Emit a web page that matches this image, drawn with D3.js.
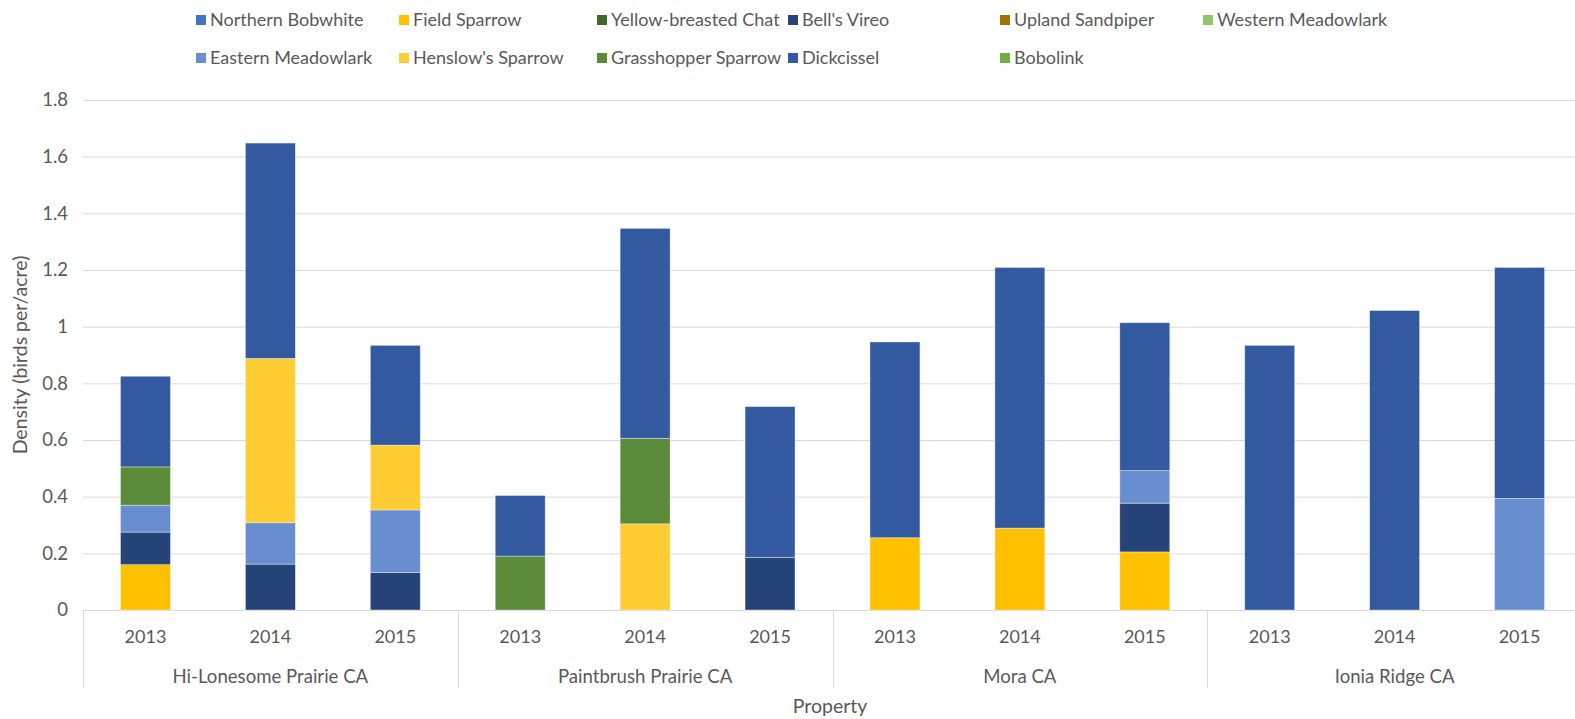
<!DOCTYPE html>
<html>
<head>
<meta charset="utf-8">
<script src="https://cdn.jsdelivr.net/npm/d3@7"></script>
<style>
  body { margin: 0; background: #fff; }
  text { font-family: Lato, "Open Sans", sans-serif; fill: #595959; }
</style>
</head>
<body>
<div id="chart"></div>
<script>
var W = 1575, H = 719;

var properties = ["Hi-Lonesome Prairie CA", "Paintbrush Prairie CA", "Mora CA", "Ionia Ridge CA"];
var years = ["2013", "2014", "2015"];

// legend order as shown in the chart (row by row)
var legendRows = [
    ["Northern Bobwhite", "Field Sparrow", "Yellow-breasted Chat", "Bell's Vireo", "Upland Sandpiper", "Western Meadowlark"],
    ["Eastern Meadowlark", "Henslow's Sparrow", "Grasshopper Sparrow", "Dickcissel", "Bobolink"]
];

// stacking order, bottom to top
var species = ["Northern Bobwhite", "Field Sparrow", "Upland Sandpiper", "Bell's Vireo", "Eastern Meadowlark",
    "Henslow's Sparrow", "Yellow-breasted Chat", "Grasshopper Sparrow", "Dickcissel", "Western Meadowlark", "Bobolink"];

var colors = {
    "Northern Bobwhite": "#4472c4",
    "Field Sparrow": "#ffc000",
    "Yellow-breasted Chat": "#43682b",
    "Bell's Vireo": "#264478",
    "Upland Sandpiper": "#9e7200",
    "Western Meadowlark": "#8fc76f",
    "Eastern Meadowlark": "#698ed0",
    "Henslow's Sparrow": "#ffcd33",
    "Grasshopper Sparrow": "#5b8a3a",
    "Dickcissel": "#335aa1",
    "Bobolink": "#70ad47"
};

// density (birds per acre), one value per property-year, in order HL13..IR15
var fieldSparrow      = [0.16, 0, 0, 0, 0, 0, 0.255, 0.289, 0.205, 0, 0, 0];
var bellsVireo        = [0.115, 0.162, 0.132, 0, 0, 0.186, 0, 0, 0.172, 0, 0, 0];
var easternMeadowlark = [0.095, 0.146, 0.221, 0, 0, 0, 0, 0, 0.115, 0, 0, 0.394];
var henslowsSparrow   = [0, 0.58, 0.229, 0, 0.304, 0, 0, 0, 0, 0, 0, 0];
var grasshopperSparrow= [0.135, 0, 0, 0.19, 0.302, 0, 0, 0, 0, 0, 0, 0];
var dickcissel        = [0.32, 0.76, 0.352, 0.214, 0.741, 0.532, 0.691, 0.92, 0.522, 0.934, 1.057, 0.815];
var zeros             = [0, 0, 0, 0, 0, 0, 0, 0, 0, 0, 0, 0];

var seriesValues = {
    "Northern Bobwhite": zeros,
    "Field Sparrow": fieldSparrow,
    "Upland Sandpiper": zeros,
    "Bell's Vireo": bellsVireo,
    "Eastern Meadowlark": easternMeadowlark,
    "Henslow's Sparrow": henslowsSparrow,
    "Yellow-breasted Chat": zeros,
    "Grasshopper Sparrow": grasshopperSparrow,
    "Dickcissel": dickcissel,
    "Western Meadowlark": zeros,
    "Bobolink": zeros
};

var yTicks = [0, 0.2, 0.4, 0.6, 0.8, 1, 1.2, 1.4, 1.6, 1.8];

// build table rows
var rows = [];
properties.forEach(function (p, pi) {
    years.forEach(function (yr, yi) {
        var idx = pi * 3 + yi;
        var r = {key: p + "|" + yr, property: p, year: yr};
        species.forEach(function (s) { r[s] = seriesValues[s][idx]; });
        rows.push(r);
    });
});

var margin = {top: 100, right: -7, bottom: 109, left: 83};
var width = W - margin.left - margin.right;
var height = H - margin.top - margin.bottom;

var svg = d3.select("#chart").append("svg")
    .attr("width", W)
    .attr("height", H);

var g = svg.append("g")
    .attr("transform", "translate(" + margin.left + "," + margin.top + ")");

var x = d3.scaleBand()
    .domain(rows.map(function (d) { return d.key; }))
    .range([0, width])
    .paddingInner(0.6)
    .paddingOuter(0.3);

var y = d3.scaleLinear()
    .domain([0, 1.8])
    .range([height, 0]);

// gridlines
g.append("g").selectAll("line")
    .data(yTicks)
    .enter().append("line")
    .attr("x1", 0)
    .attr("x2", width)
    .attr("y1", function (d) { return y(d) + 0.5; })
    .attr("y2", function (d) { return y(d) + 0.5; })
    .style("stroke", "#d9d9d9")
    .style("stroke-width", 1);

// y axis labels
var yAxis = d3.axisLeft(y)
    .tickValues(yTicks)
    .tickSize(0)
    .tickPadding(15)
    .tickFormat(function (d) { return d3.format("")(+d.toFixed(1)); });

g.append("g")
    .call(yAxis)
    .call(function (a) { a.select(".domain").remove(); })
    .selectAll("text")
    .style("font-size", "18.5px")
    .style("fill", "#595959");

// stacked bars
var stack = d3.stack().keys(species);
var layers = stack(rows);

g.append("g").selectAll("g")
    .data(layers)
    .enter().append("g")
    .style("fill", function (d) { return colors[d.key]; })
    .selectAll("rect")
    .data(function (d) { return d.filter(function (s) { return s[1] - s[0] > 0; }); })
    .enter().append("rect")
    .attr("x", function (d) { return x(d.data.key); })
    .attr("y", function (d) { return y(d[1]); })
    .attr("width", x.bandwidth())
    .attr("height", function (d) { return y(d[0]) - y(d[1]); })
    .style("stroke", "#ffffff")
    .style("stroke-opacity", 0.5)
    .style("stroke-width", 0.75);

// x axis: years
var xAxis = g.append("g")
    .attr("transform", "translate(0," + height + ")");

xAxis.selectAll(".year")
    .data(rows)
    .enter().append("text")
    .attr("class", "year")
    .attr("x", function (d) { return x(d.key) + x.bandwidth() / 2; })
    .attr("y", 27)
    .attr("dy", "0.35em")
    .attr("text-anchor", "middle")
    .style("font-size", "18px")
    .text(function (d) { return d.year; });

var groupX = d3.scaleBand()
    .domain(properties)
    .range([0, width]);

xAxis.selectAll(".sep")
    .data(d3.range(properties.length + 1))
    .enter().append("line")
    .attr("class", "sep")
    .attr("x1", function (i) { return Math.round(i * groupX.step()) + 0.5; })
    .attr("x2", function (i) { return Math.round(i * groupX.step()) + 0.5; })
    .attr("y1", 0)
    .attr("y2", 78)
    .style("stroke", "#d9d9d9")
    .style("stroke-width", 1);

xAxis.selectAll(".prop")
    .data(properties)
    .enter().append("text")
    .attr("class", "prop")
    .attr("x", function (d) { return groupX(d) + groupX.bandwidth() / 2; })
    .attr("y", 66)
    .attr("dy", "0.35em")
    .attr("text-anchor", "middle")
    .style("font-size", "18.6px")
    .text(function (d) { return d; });

// axis titles
svg.append("text")
    .attr("x", 830)
    .attr("y", 706)
    .attr("dy", "0.35em")
    .attr("text-anchor", "middle")
    .style("font-size", "19.5px")
    .text("Property");

svg.append("text")
    .attr("transform", "translate(20," + 355 + ") rotate(-90)")
    .attr("dy", "0.35em")
    .attr("text-anchor", "middle")
    .style("font-size", "19.5px")
    .text("Density (birds per/acre)");

// legend
var legendX = [196, 399, 597, 788, 1000, 1203];
var legendY = [20, 58];

legendRows.forEach(function (row, ri) {
    var item = svg.append("g").selectAll("g")
        .data(row)
        .enter().append("g")
        .attr("transform", function (d, i) {
            return "translate(" + legendX[i] + "," + legendY[ri] + ")";
        });

    item.append("rect")
        .attr("x", 0)
        .attr("y", -5)
        .attr("width", 10)
        .attr("height", 10)
        .style("fill", function (d) { return colors[d]; });

    item.append("text")
        .attr("x", 14)
        .attr("y", 0)
        .attr("dy", "0.35em")
        .style("font-size", "18px")
        .text(function (d) { return d; });
});
</script>
</body>
</html>
